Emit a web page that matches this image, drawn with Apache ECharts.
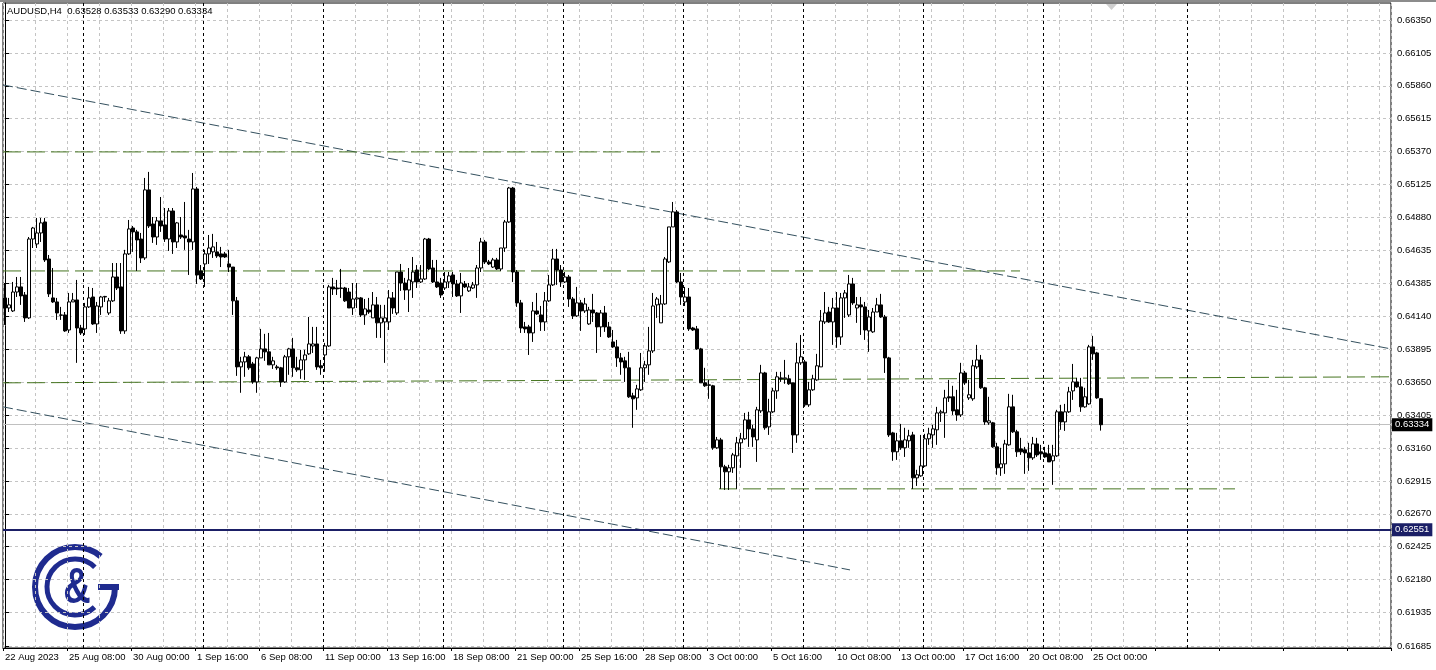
<!DOCTYPE html>
<html><head><meta charset="utf-8">
<script src="https://cdn.jsdelivr.net/npm/echarts@6/dist/echarts.min.js"></script>
<style>html,body{margin:0;padding:0;background:#fff}#c{width:1436px;height:670px}</style>
</head><body><div id="c"></div>
<script>
const symbolTitle = 'AUDUSD,H4';
const openP = [0.64279,0.64204,0.64182,0.64323,0.64361,0.64301,0.64130,0.64718,0.64681,0.64763,
0.64845,0.64569,0.64279,0.64249,0.64152,0.64152,0.64040,0.64249,0.64264,0.64055,
0.64048,0.64212,0.64286,0.64085,0.64212,0.64286,0.64167,0.64257,0.64435,0.64361,
0.64033,0.64607,0.64800,0.64771,0.64718,0.64577,0.65084,0.64830,0.64733,0.64853,
0.64823,0.64718,0.64927,0.64696,0.64748,0.64741,0.64718,0.64696,0.65091,0.64480,
0.64532,0.64607,0.64622,0.64622,0.64607,0.64607,0.64532,0.64509,0.64257,0.63765,
0.63802,0.63840,0.63787,0.63653,0.63832,0.63899,0.63877,0.63780,0.63765,0.63758,
0.63653,0.63840,0.63899,0.63758,0.63743,0.63817,0.63862,0.63921,0.63936,0.63773,
0.63854,0.63921,0.64361,0.64353,0.64353,0.64353,0.64323,0.64204,0.64271,0.64279,
0.64152,0.64189,0.64130,0.64227,0.64093,0.64100,0.64100,0.64279,0.64167,0.64472,
0.64390,0.64338,0.64398,0.64487,0.64398,0.64420,0.64718,0.64502,0.64398,0.64390,
0.64353,0.64398,0.64450,0.64383,0.64294,0.64383,0.64331,0.64353,0.64376,0.64502,
0.64696,0.64547,0.64509,0.64562,0.64495,0.64651,0.64845,0.65098,0.64472,0.64242,
0.64063,0.64063,0.64018,0.64182,0.64152,0.64100,0.64257,0.64376,0.64569,0.64487,
0.64398,0.64435,0.64271,0.64145,0.64242,0.64182,0.64085,0.64189,0.64167,0.64063,
0.64167,0.64063,0.63951,0.63914,0.63832,0.63810,0.63758,0.63549,0.63534,0.63594,
0.63758,0.63780,0.63884,0.64227,0.64093,0.64234,0.64547,0.64808,0.64920,0.64398,
0.64249,0.64286,0.64055,0.64048,0.63899,0.63646,0.63631,0.63624,0.63162,0.63221,
0.63020,0.62983,0.63013,0.63102,0.63199,0.63229,0.63370,0.63303,0.63221,0.63437,
0.63720,0.63318,0.63430,0.63586,0.63683,0.63676,0.63676,0.63646,0.63258,0.63795,
0.63802,0.63482,0.63594,0.63668,0.63765,0.64100,0.64174,0.64100,0.64204,0.63988,
0.64279,0.64152,0.64383,0.64204,0.64227,0.64212,0.64033,0.64026,0.64174,0.64227,
0.64137,0.63832,0.63273,0.63132,0.63214,0.63162,0.63214,0.63258,0.62938,0.62953,
0.63027,0.63229,0.63258,0.63296,0.63422,0.63422,0.63542,0.63542,0.63445,0.63407,
0.63720,0.63534,0.63527,0.63765,0.63817,0.63609,0.63348,0.63348,0.63169,0.63013,
0.63042,0.63184,0.63467,0.63281,0.63154,0.63147,0.63124,0.63087,0.63191,0.63132,
0.63124,0.63117,0.63065,0.63102,0.63430,0.63355,0.63430,0.63586,0.63653,0.63616,
0.63467,0.63489,0.63914,0.63869,0.63528];
const highP = [0.64390,0.64279,0.64398,0.64435,0.64435,0.64323,0.64733,0.64808,0.64875,0.64875,
0.64875,0.64599,0.64502,0.64279,0.64212,0.64174,0.64316,0.64316,0.64413,0.64078,
0.64242,0.64361,0.64353,0.64249,0.64294,0.64294,0.64279,0.64539,0.64539,0.64539,
0.64637,0.64860,0.64815,0.64786,0.64763,0.65173,0.65218,0.64882,0.64882,0.65031,
0.64949,0.64949,0.64949,0.64845,0.64882,0.64994,0.64786,0.65210,0.65106,0.64524,
0.64637,0.64748,0.64756,0.64696,0.64659,0.64622,0.64637,0.64509,0.64286,0.63840,
0.63877,0.63854,0.63802,0.63840,0.64048,0.64011,0.64018,0.63840,0.63780,0.63765,
0.63854,0.63907,0.63981,0.63840,0.63892,0.63892,0.64137,0.64063,0.64063,0.63817,
0.63944,0.64376,0.64428,0.64413,0.64495,0.64361,0.64353,0.64390,0.64390,0.64286,
0.64271,0.64279,0.64323,0.64286,0.64227,0.64227,0.64338,0.64323,0.64472,0.64532,
0.64428,0.64502,0.64584,0.64524,0.64524,0.64726,0.64726,0.64562,0.64562,0.64428,
0.64472,0.64472,0.64472,0.64413,0.64465,0.64405,0.64390,0.64398,0.64524,0.64726,
0.64711,0.64562,0.64577,0.64577,0.64651,0.64860,0.65106,0.65106,0.64487,0.64264,
0.64100,0.64078,0.64249,0.64316,0.64219,0.64323,0.64450,0.64644,0.64644,0.64524,
0.64472,0.64450,0.64286,0.64361,0.64264,0.64279,0.64212,0.64309,0.64174,0.64189,
0.64219,0.64100,0.64040,0.63966,0.63869,0.63840,0.63877,0.63572,0.63631,0.63869,
0.63810,0.64063,0.64316,0.64286,0.64301,0.64584,0.64808,0.64994,0.64934,0.64465,
0.64361,0.64353,0.64063,0.64070,0.63907,0.63758,0.63668,0.63631,0.63243,0.63236,
0.63035,0.63035,0.63124,0.63243,0.63273,0.63422,0.63430,0.63333,0.63467,0.63780,
0.63728,0.63527,0.63609,0.63728,0.63728,0.63817,0.63706,0.63646,0.63944,0.64003,
0.63817,0.63653,0.63706,0.63862,0.64189,0.64323,0.64212,0.64279,0.64323,0.64316,
0.64338,0.64450,0.64428,0.64286,0.64286,0.64249,0.64189,0.64204,0.64279,0.64309,
0.64152,0.63840,0.63281,0.63273,0.63340,0.63311,0.63296,0.63281,0.62998,0.63258,
0.63266,0.63311,0.63333,0.63467,0.63445,0.63594,0.63668,0.63624,0.63594,0.63795,
0.63735,0.63668,0.63817,0.63929,0.63854,0.63616,0.63542,0.63355,0.63199,0.63162,
0.63221,0.63564,0.63557,0.63296,0.63236,0.63169,0.63199,0.63243,0.63236,0.63184,
0.63169,0.63184,0.63184,0.63445,0.63482,0.63489,0.63616,0.63787,0.63683,0.63683,
0.63609,0.63929,0.63996,0.63877,0.63533];
const lowP = [0.64078,0.64174,0.64174,0.64286,0.64227,0.64100,0.64122,0.64651,0.64651,0.64696,
0.64547,0.64286,0.64242,0.64115,0.64115,0.64026,0.64018,0.64249,0.63795,0.64003,
0.64003,0.64204,0.64078,0.64018,0.64152,0.64249,0.64152,0.64249,0.64338,0.64011,
0.64011,0.64599,0.64622,0.64480,0.64539,0.64562,0.64800,0.64689,0.64674,0.64771,
0.64696,0.64629,0.64607,0.64651,0.64718,0.64637,0.64450,0.64637,0.64383,0.64413,
0.64361,0.64532,0.64577,0.64577,0.64509,0.64577,0.64472,0.64152,0.63698,0.63572,
0.63691,0.63743,0.63639,0.63572,0.63832,0.63810,0.63780,0.63750,0.63743,0.63616,
0.63646,0.63706,0.63691,0.63728,0.63676,0.63668,0.63854,0.63869,0.63743,0.63706,
0.63728,0.63914,0.64301,0.64301,0.64279,0.64249,0.64204,0.64152,0.64204,0.64137,
0.64078,0.64160,0.64130,0.63981,0.63981,0.63795,0.64040,0.64160,0.64152,0.64331,
0.64264,0.64174,0.64279,0.64353,0.64390,0.64413,0.64487,0.64390,0.64353,0.64279,
0.64338,0.64353,0.64286,0.64286,0.64167,0.64353,0.64323,0.64346,0.64279,0.64472,
0.64532,0.64524,0.64502,0.64487,0.64480,0.64622,0.64838,0.64398,0.64212,0.64018,
0.64018,0.63854,0.63951,0.64152,0.64033,0.64033,0.64249,0.64368,0.64376,0.64361,
0.64390,0.64212,0.64122,0.64137,0.64033,0.64167,0.64078,0.64100,0.63869,0.63988,
0.64026,0.63981,0.63907,0.63765,0.63706,0.63653,0.63534,0.63311,0.63445,0.63586,
0.63653,0.63706,0.63869,0.64130,0.64093,0.64227,0.64539,0.64808,0.64390,0.64227,
0.64219,0.64033,0.64033,0.63892,0.63646,0.63616,0.63527,0.63147,0.63154,0.62856,
0.62848,0.62848,0.62975,0.62856,0.63013,0.63221,0.63169,0.63169,0.63057,0.63422,
0.63296,0.63258,0.63422,0.63527,0.63653,0.63639,0.63631,0.63124,0.63199,0.63780,
0.63467,0.63467,0.63586,0.63661,0.63765,0.64085,0.64093,0.63929,0.63907,0.63929,
0.64130,0.64137,0.64227,0.64093,0.64003,0.63966,0.63877,0.64018,0.64174,0.64130,
0.63720,0.63243,0.63065,0.63072,0.63147,0.63094,0.63162,0.62856,0.62878,0.62946,
0.63020,0.63184,0.63162,0.63184,0.63355,0.63236,0.63504,0.63407,0.63363,0.63392,
0.63631,0.63519,0.63512,0.63750,0.63601,0.63333,0.63333,0.63162,0.62961,0.62953,
0.62968,0.63177,0.63273,0.63094,0.63109,0.62968,0.62990,0.63072,0.63094,0.63072,
0.63087,0.63057,0.62886,0.63094,0.63296,0.63288,0.63422,0.63519,0.63609,0.63430,
0.63460,0.63482,0.63817,0.63527,0.63290];
const closeP = [0.64204,0.64227,0.64323,0.64361,0.64294,0.64130,0.64718,0.64800,0.64763,0.64838,
0.64562,0.64309,0.64249,0.64167,0.64150,0.64033,0.64249,0.64264,0.64055,0.64018,
0.64212,0.64279,0.64085,0.64219,0.64286,0.64290,0.64257,0.64435,0.64353,0.64033,
0.64607,0.64793,0.64771,0.64711,0.64577,0.65084,0.64815,0.64733,0.64853,0.64815,
0.64718,0.64927,0.64696,0.64838,0.64733,0.64726,0.64696,0.65091,0.64450,0.64420,
0.64607,0.64651,0.64659,0.64592,0.64584,0.64584,0.64509,0.64257,0.63765,0.63802,
0.63840,0.63758,0.63653,0.63832,0.63899,0.63877,0.63780,0.63810,0.63758,0.63653,
0.63840,0.63899,0.63758,0.63743,0.63817,0.63854,0.63936,0.63936,0.63765,0.63758,
0.63921,0.64361,0.64346,0.64346,0.64350,0.64257,0.64204,0.64271,0.64279,0.64152,
0.64197,0.64174,0.64227,0.64093,0.64130,0.64130,0.64279,0.64204,0.64472,0.64390,
0.64338,0.64413,0.64472,0.64398,0.64420,0.64718,0.64495,0.64398,0.64361,0.64301,
0.64398,0.64443,0.64383,0.64294,0.64390,0.64361,0.64361,0.64376,0.64502,0.64696,
0.64547,0.64532,0.64562,0.64495,0.64651,0.64845,0.65098,0.64472,0.64242,0.64055,
0.64048,0.64018,0.64182,0.64160,0.64100,0.64257,0.64376,0.64569,0.64487,0.64398,
0.64435,0.64271,0.64145,0.64242,0.64182,0.64234,0.64189,0.64167,0.64063,0.64167,
0.64063,0.63988,0.63914,0.63832,0.63802,0.63758,0.63542,0.63527,0.63601,0.63758,
0.63780,0.63884,0.64219,0.64271,0.64234,0.64569,0.64808,0.64920,0.64398,0.64286,
0.64286,0.64048,0.64040,0.63899,0.63646,0.63624,0.63628,0.63162,0.63221,0.63020,
0.62983,0.63013,0.63109,0.63199,0.63229,0.63370,0.63303,0.63243,0.63445,0.63720,
0.63311,0.63430,0.63586,0.63691,0.63676,0.63683,0.63639,0.63258,0.63795,0.63840,
0.63482,0.63594,0.63676,0.63773,0.64107,0.64167,0.64100,0.64204,0.63988,0.64279,
0.64316,0.64383,0.64242,0.64227,0.64212,0.64040,0.64137,0.64174,0.64227,0.64137,
0.63832,0.63258,0.63132,0.63214,0.63162,0.63221,0.63251,0.62938,0.62961,0.63027,
0.63229,0.63266,0.63303,0.63422,0.63430,0.63534,0.63534,0.63437,0.63407,0.63720,
0.63646,0.63557,0.63773,0.63817,0.63609,0.63355,0.63363,0.63169,0.63013,0.63042,
0.63191,0.63467,0.63281,0.63132,0.63132,0.63124,0.63087,0.63191,0.63109,0.63117,
0.63094,0.63057,0.63102,0.63430,0.63355,0.63430,0.63579,0.63653,0.63616,0.63467,
0.63542,0.63914,0.63862,0.63534,0.63334];

const timeLabels = ['22 Aug 2023','25 Aug 08:00','30 Aug 00:00','1 Sep 16:00','6 Sep 08:00','11 Sep 00:00','13 Sep 16:00','18 Sep 08:00','21 Sep 00:00','25 Sep 16:00','28 Sep 08:00','3 Oct 00:00','5 Oct 16:00','10 Oct 08:00','13 Oct 00:00','17 Oct 16:00','20 Oct 08:00','25 Oct 00:00'];
const barsPerLabel = 16;
const barsPerGrid = 8;
const slotCount = 347;
const priceTicks = [0.66350,0.66105,0.65860,0.65615,0.65370,0.65125,0.64880,0.64635,0.64385,0.64140,0.63895,0.63650,0.63405,0.63160,0.62915,0.62670,0.62425,0.62180,0.61935,0.61685];
const priceMin = 0.616701, priceMax = 0.664767;
const separatorBars = [20,50,80,110,140,170,200,230,260,296];
const bidPrice = 0.63334;
const levelPrice = 0.62551;
const channelUpper = [[-0.5,0.65866],[346.5,0.63899]];
const channelLower = [[-0.5,0.63467],[211.25,0.62252]];
const greenLevel1 = [[-0.5,0.65367],[163.75,0.65367]];
const greenLevel2 = [[-0.5,0.64480],[253.75,0.64480]];
const greenLevel3 = [[-0.5,0.63646],[346.5,0.63691]];
const greenLevel4 = [[178.5,0.62856],[307.5,0.62856]];

const FONT = 'Liberation Sans';
const NAVY = '#1f2b8f';
const categories = Array.from({length: slotCount}, (_, i) => String(i));
const candleData = openP.map((o, i) => [o, closeP[i], lowP[i], highP[i]]);
const n = openP.length - 1;
const titleText = symbolTitle + '  ' + [openP[n], highP[n], lowP[n], closeP[n]].map(v => v.toFixed(5)).join(' ');

function trend(data, color, dash) {
  return {type: 'line', xAxisIndex: 1, yAxisIndex: 0, data: data, symbol: 'none', silent: true,
    lineStyle: {color: color, width: 1, type: dash}, z: 4, animation: false};
}
const GREEN = '#467520';
const SLATE = '#34505e';

const chart = echarts.init(document.getElementById('c'));
chart.setOption({
  backgroundColor: '#fff',
  animation: false,
  title: {text: titleText, left: 7, top: 6, padding: 0, textStyle: {fontSize: 9.5, fontWeight: 'normal', color: '#000', fontFamily: FONT}},
  grid: {left: 3, right: 45, top: 3, bottom: 22, show: true, borderColor: '#000', borderWidth: 1, backgroundColor: 'transparent'},
  xAxis: [{
    type: 'category', data: categories, boundaryGap: true,
    axisLine: {show: true, lineStyle: {color: '#000', width: 1}},
    axisTick: {show: true, length: 3, interval: (i) => i % barsPerLabel === 0, lineStyle: {color: '#000'}},
    axisLabel: {interval: (i) => i % barsPerLabel === 0 && i / barsPerLabel < timeLabels.length,
      formatter: (v, i) => timeLabels[i / barsPerLabel] || '', align: 'left', color: '#000', fontSize: 9.5, fontFamily: FONT, margin: 4},
    splitLine: {show: true, interval: (i) => i % barsPerGrid === 0, lineStyle: {color: '#c4c4c4', type: [3, 3], width: 1}}
  }, {
    type: 'value', min: -0.5, max: slotCount - 0.5, show: false, splitLine: {show: false}
  }],
  yAxis: {
    type: 'value', position: 'right', min: priceMin, max: priceMax, scale: true,
    axisLine: {show: true, lineStyle: {color: '#000'}},
    axisTick: {show: true, length: 4, customValues: priceTicks, lineStyle: {color: '#000'}},
    axisLabel: {customValues: priceTicks, formatter: (v) => v.toFixed(5), color: '#000', fontSize: 9.5, fontFamily: FONT, margin: 6},
    splitLine: {show: true, lineStyle: {color: '#c4c4c4', type: [3, 3], width: 1}}
  },
  series: [
    {type: 'line', xAxisIndex: 1, yAxisIndex: 0, data: [], silent: true, z: 1,
      markLine: {symbol: ['none', 'none'], silent: true, animation: false, precision: 5,
        lineStyle: {color: '#000', type: [3, 3], width: 1}, label: {show: false},
        data: separatorBars.map(b => ({xAxis: b - 0.5}))}},
    {type: 'line', xAxisIndex: 1, yAxisIndex: 0, data: [], silent: true, z: 2,
      markLine: {symbol: ['none', 'none'], silent: true, animation: false, precision: 5,
        data: [
          {yAxis: bidPrice, lineStyle: {color: '#c0c0c0', type: 'solid', width: 1},
            label: {show: true, position: 'end', distance: 1, formatter: () => bidPrice.toFixed(5), color: '#fff', backgroundColor: '#000', padding: [2, 3, 1, 3], fontSize: 9.5, fontFamily: FONT}},
          {yAxis: levelPrice, lineStyle: {color: '#1b1f66', type: 'solid', width: 2},
            label: {show: true, position: 'end', distance: 1, formatter: () => levelPrice.toFixed(5), color: '#fff', backgroundColor: '#1b1f66', padding: [2, 3, 1, 3], fontSize: 9.5, fontFamily: FONT}}
        ]}},
    trend(channelUpper, SLATE, [10, 4]),
    trend(channelLower, SLATE, [10, 4]),
    trend(greenLevel1, GREEN, [18, 6]),
    trend(greenLevel2, GREEN, [18, 6]),
    trend(greenLevel3, GREEN, [18, 6]),
    trend(greenLevel4, GREEN, [18, 6]),
    {type: 'candlestick', xAxisIndex: 0, yAxisIndex: 0, data: candleData, barWidth: 3, z: 5,
      itemStyle: {color: '#fff', color0: '#000', borderColor: '#000', borderColor0: '#000', borderColorDoji: '#000', borderWidth: 1}}
  ],
  graphic: [
    {type: 'rect', shape: {x: 0, y: 0, width: 1436, height: 2}, style: {fill: '#8c8c8c'}, silent: true},
    {type: 'polygon', shape: {points: [[1106, 4], [1117, 4], [1111.5, 10]]}, style: {fill: '#cfcfcf'}, silent: true},
    {type: 'group', silent: true, children: [
      {type: 'arc', shape: {cx: 75, cy: 587, r: 40, startAngle: 0, endAngle: 5.41, clockwise: true}, style: {stroke: NAVY, lineWidth: 6, fill: null}},
      {type: 'rect', shape: {x: 98, y: 584, width: 21, height: 6}, style: {fill: NAVY}},
      {type: 'arc', shape: {cx: 75, cy: 587, r: 28, startAngle: 0.8, endAngle: 5.5, clockwise: true}, style: {stroke: NAVY, lineWidth: 5, fill: null}},
      {type: 'text', x: 77, y: 589, scaleY: 1.3, style: {text: '&', fill: NAVY, font: 'bold 38px "Liberation Sans"', textAlign: 'center', textVerticalAlign: 'middle'}}
    ]}
  ]
});
</script>
</body></html>
